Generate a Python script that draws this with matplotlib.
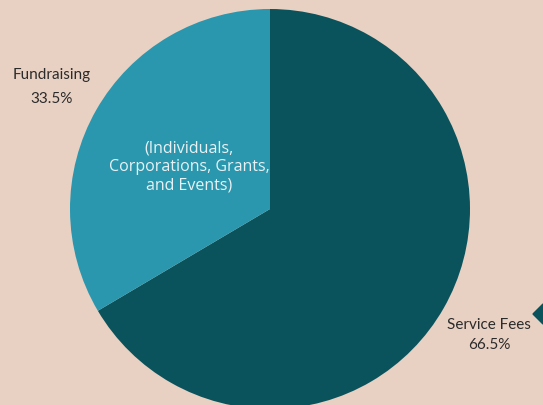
import matplotlib.pyplot as plt
from matplotlib.patches import Polygon

labels = ['Service Fees', 'Fundraising']
values = [66.5, 33.5]
colors = ['#0b535c', '#2a97ae']
bg = '#e8d1c3'

fig = plt.figure(figsize=(5.43, 4.06), dpi=100)
fig.patch.set_facecolor(bg)
ax = fig.add_axes([0, 0, 1, 1])
ax.set_facecolor(bg)

ax.pie(values, colors=colors, startangle=90, counterclock=False,
       center=(270, 196), radius=200, frame=True)
ax.set_xlim(0, 543)
ax.set_ylim(0, 406)
ax.set_aspect('equal')
ax.axis('off')

# small decorative diamond on the right edge
ax.add_patch(Polygon([(533, 91), (543, 101), (553, 91), (543, 81)],
                     closed=True, color=colors[0]))

tc = '#2b2b2b'
ax.text(52, 331, 'Fundraising', ha='center', va='center', fontsize=11,
        color=tc, family='Lato')
ax.text(52, 307, '{:.1f}%'.format(values[1]), ha='center', va='center',
        fontsize=11, color=tc, family='Lato')
ax.text(489, 81, 'Service Fees', ha='center', va='center', fontsize=11,
        color=tc, family='Lato')
ax.text(489, 61, '{:.1f}%'.format(values[0]), ha='center', va='center',
        fontsize=11, color=tc, family='Lato')

ax.text(189, 239, '(Individuals,\nCorporations, Grants,\nand Events)',
        ha='center', va='center', fontsize=11.5, color='#e8f2f4',
        family='Open Sans', linespacing=1.2)

fig.savefig('out.png', dpi=100, facecolor=bg)
